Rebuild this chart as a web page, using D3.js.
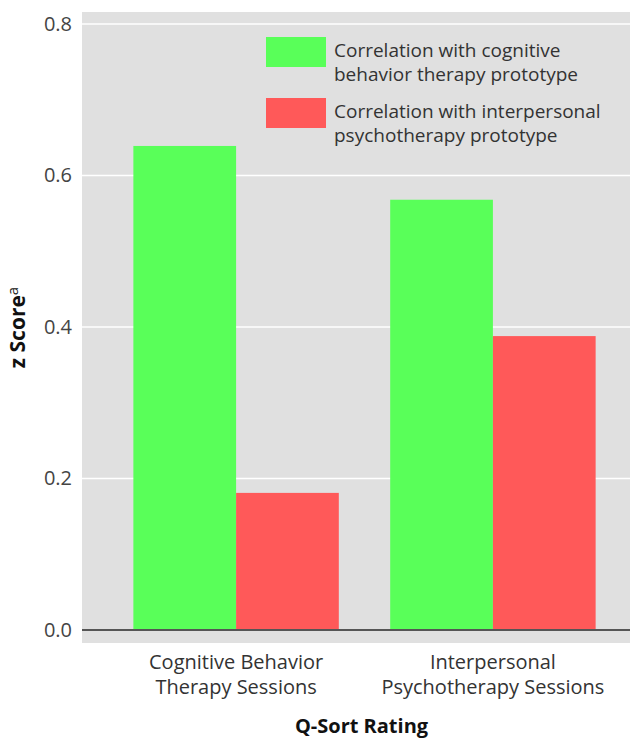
<!DOCTYPE html>
<html><head><meta charset="utf-8">
<script src="https://cdn.jsdelivr.net/npm/d3@7"></script>
<style>body{margin:0;background:#fff}svg{display:block}</style>
</head><body>
<svg id="c" width="630" height="742"></svg>
<script>
const categories = [["Cognitive Behavior","Therapy Sessions"],["Interpersonal","Psychotherapy Sessions"]];
const categoryKeys = ["CBT","IPT"];
const seriesNames = ["Correlation with cognitive behavior therapy prototype","Correlation with interpersonal psychotherapy prototype"];
const seriesLegendLines = [["Correlation with cognitive","behavior therapy prototype"],["Correlation with interpersonal","psychotherapy prototype"]];
const cbtValues = [0.639, 0.568];
const iptValues = [0.181, 0.388];
const seriesColors = ["#59ff59","#ff5959"];
const yTicks = [0.0, 0.2, 0.4, 0.6, 0.8];

const svg = d3.select("#c");
const font = "'Open Sans', sans-serif";
const panel = {x0: 82, x1: 647, y0: 12, y1: 643};
const y = d3.scaleLinear().domain([0, 0.8]).range([630, 24]);
const x = d3.scaleBand().domain(categoryKeys).range([panel.x0, panel.x1]).paddingInner(0.2).paddingOuter(0.2);
const xs = d3.scaleBand().domain([0,1]).range([0, x.bandwidth()]);

svg.append("rect").attr("x", panel.x0).attr("y", panel.y0).attr("width", panel.x1 - panel.x0).attr("height", panel.y1 - panel.y0).attr("fill", "#e0e0e0");

svg.append("g").selectAll("line").data(yTicks.filter(d => d > 0)).join("line")
  .attr("x1", panel.x0).attr("x2", panel.x1).attr("y1", d => y(d)).attr("y2", d => y(d))
  .attr("stroke", "#ffffff").attr("stroke-width", 1.6);

const series = [cbtValues, iptValues];
series.forEach((vals, si) => {
  svg.append("g").selectAll("rect").data(vals).join("rect")
    .attr("x", (d, i) => x(categoryKeys[i]) + xs(si))
    .attr("width", xs.bandwidth())
    .attr("y", d => y(d))
    .attr("height", d => y(0) - y(d))
    .attr("fill", seriesColors[si]);
});

svg.append("line").attr("x1", panel.x0).attr("x2", panel.x1).attr("y1", y(0)).attr("y2", y(0)).attr("stroke", "#555").attr("stroke-width", 2);

// y axis
const yAxis = d3.axisLeft(y).tickValues(yTicks).tickFormat(d3.format(".1f")).tickSize(0).tickPadding(10);
const ga = svg.append("g").attr("transform", `translate(${panel.x0},0)`).call(yAxis);
ga.select(".domain").remove();
ga.selectAll("text").attr("font-family", font).attr("font-size", 20).attr("fill", "#444");

// x labels
const gx = svg.append("g");
categoryKeys.forEach((k, i) => {
  const t = gx.append("text").attr("x", x(k) + x.bandwidth()/2).attr("y", 669).attr("text-anchor", "middle")
    .attr("font-family", font).attr("font-size", 20).attr("fill", "#333");
  categories[i].forEach((ln, j) => t.append("tspan").attr("x", x(k) + x.bandwidth()/2).attr("dy", j ? 25 : 0).text(ln));
});

svg.append("text").attr("x", (panel.x0 + panel.x1)/2 - 3).attr("y", 733).attr("text-anchor", "middle")
  .attr("font-family", font).attr("font-weight", "bold").attr("font-size", 20).attr("fill", "#111").text("Q-Sort Rating");

const yt = svg.append("text").attr("transform", `translate(25,${(panel.y0+panel.y1)/2}) rotate(-90)`).attr("text-anchor", "middle")
  .attr("font-family", font).attr("font-weight", "bold").attr("font-size", 21).attr("fill", "#111");
yt.append("tspan").text("z Score");
yt.append("tspan").attr("font-size", 15).attr("font-weight", "normal").attr("dy", -7).text("a");

// legend
const lg = svg.append("g");
seriesLegendLines.forEach((lines, i) => {
  const top = 37 + i * 61;
  lg.append("rect").attr("x", 266).attr("y", top).attr("width", 60).attr("height", 30).attr("fill", seriesColors[i]);
  lines.forEach((ln, j) => lg.append("text").attr("x", 334).attr("y", top + 20 + j * 24)
    .attr("font-family", font).attr("font-size", 19).attr("fill", "#333").text(ln));
});
</script>
</body></html>
